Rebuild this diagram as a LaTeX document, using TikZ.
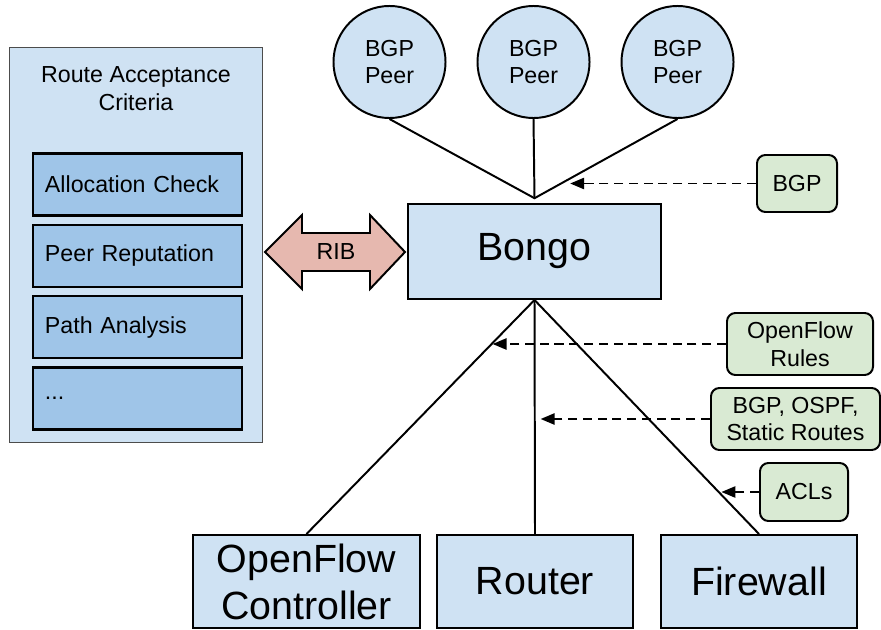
\documentclass[tikz,border=0pt]{standalone}
\usepackage{fontspec}
\setmainfont{Liberation Sans}
\usetikzlibrary{arrows.meta,positioning}
\definecolor{paleblue}{HTML}{CFE2F3}
\definecolor{midblue}{HTML}{9FC5E8}
\definecolor{palegreen}{HTML}{D9EAD3}
\definecolor{palered}{HTML}{E6B8AF}
\newcommand{\smalltxt}{\fontsize{16.5}{19.5}\selectfont}
\newcommand{\bigtxt}{\fontsize{28}{33.5}\selectfont}
\tikzset{
    netbox/.style={draw, line width=1.4pt, fill=paleblue, align=center, inner sep=0pt},
    devnode/.style={netbox, font=\bigtxt, minimum height=2.325cm},
    peernode/.style={netbox, circle, font=\smalltxt, minimum size=2.8cm},
    checknode/.style={draw, line width=1.5pt, fill=midblue, font=\smalltxt, align=left, text width=4.625cm, inner xsep=0.3cm, inner ysep=0pt, minimum height=1.55cm},
    tagnode/.style={draw, line width=1.4pt, fill=palegreen, rounded corners=6pt, font=\smalltxt, align=center, inner sep=0pt},
    feedarrow/.style={-{Triangle[length=10pt,width=8pt]}, line width=1.4pt, dash pattern=on 6.5pt off 4pt},
    linkline/.style={line width=1.4pt}
}
\begin{document}
\begin{tikzpicture}[x=0.025cm, y=-0.025cm]
    \useasboundingbox (0,0) rectangle (881,630);

    % acceptance criteria panel
    \node[draw=gray!60!black, line width=0.7pt, fill=paleblue, minimum width=6.3cm, minimum height=9.85cm, inner sep=0pt] (panel) at (136,245) {};
    \node[font=\smalltxt, align=center] (paneltitle) at (136,88.5) {Route Acceptance\\Criteria};
    \node[checknode] (alloc) at (137.5,184.5) {Allocation Check};
    \node[checknode, below=0.18cm of alloc] (peerrep) {Peer Reputation};
    \node[checknode, below=0.18cm of peerrep] (pathan) {Path Analysis};
    \node[checknode, below=0.18cm of pathan] (more) {...};

    % controller
    \node[netbox, font=\bigtxt, minimum width=6.325cm, minimum height=2.375cm] (bongo) at (534.5,251.5) {Bongo};

    % RIB exchange
    \filldraw[fill=palered, line width=1.4pt, line join=miter]
        (265,252) -- (302,215) -- (302,233) -- (370,233) -- (370,215) -- (405,252)
        -- (370,289) -- (370,271) -- (302,271) -- (302,289) -- cycle;
    \node[font=\smalltxt] (rib) at (336,252) {RIB};

    % peers
    \node[peernode] (peera) at (389.5,62) {BGP\\Peer};
    \node[peernode, right=0.75cm of peera] (peerb) {BGP\\Peer};
    \node[peernode, right=0.75cm of peerb] (peerc) {BGP\\Peer};
    \coordinate (hubtop) at ([yshift=0.12cm]bongo.north);
    \draw[linkline] (peera.south) -- (hubtop) -- (peerc.south);
    \draw[linkline] (peerb.south) -- (hubtop);

    % devices
    \node[devnode, minimum width=5.675cm] (ofc) at (306.5,581.5) {OpenFlow\\Controller};
    \node[devnode, minimum width=4.9cm] (router) at (535,581.5) {Router};
    \node[devnode, minimum width=4.9cm] (fw) at (759,581.5) {Firewall};
    \draw[linkline] (bongo.south) -- (ofc.north);
    \draw[linkline] (bongo.south) -- (router.north);
    \draw[linkline] (bongo.south) -- (fw.north);

    % protocol tags
    \node[tagnode, minimum width=2cm, minimum height=1.425cm] (bgptag) at (797,183.5) {BGP};
    \node[tagnode, minimum width=3.65cm, minimum height=1.55cm] (oftag) at (800,344) {OpenFlow\\Rules};
    \node[tagnode, minimum width=4.225cm, minimum height=1.55cm] (routetag) at (795.5,419) {BGP, OSPF,\\Static Routes};
    \node[tagnode, minimum width=2.2cm, minimum height=1.45cm] (acltag) at (804,492) {ACLs};

    \path (peerc.south) -- (hubtop) coordinate[pos=0.79] (bgphit);
    \path (bongo.south) -- (ofc.north) coordinate[pos=0.19] (ofhit);
    \path (bongo.south) -- (fw.north) coordinate[pos=0.82] (aclhit);
    \draw[feedarrow] (bgptag.west) -- ([xshift=4pt]bgptag.west -| bgphit);
    \draw[feedarrow] (oftag.west) -- ([xshift=1pt]oftag.west -| ofhit);
    \draw[feedarrow] (routetag.west) -- ([xshift=4pt]routetag.west -| router.north);
    \draw[feedarrow] (acltag.west) -- ([xshift=2pt]acltag.west -| aclhit);
\end{tikzpicture}
\end{document}
